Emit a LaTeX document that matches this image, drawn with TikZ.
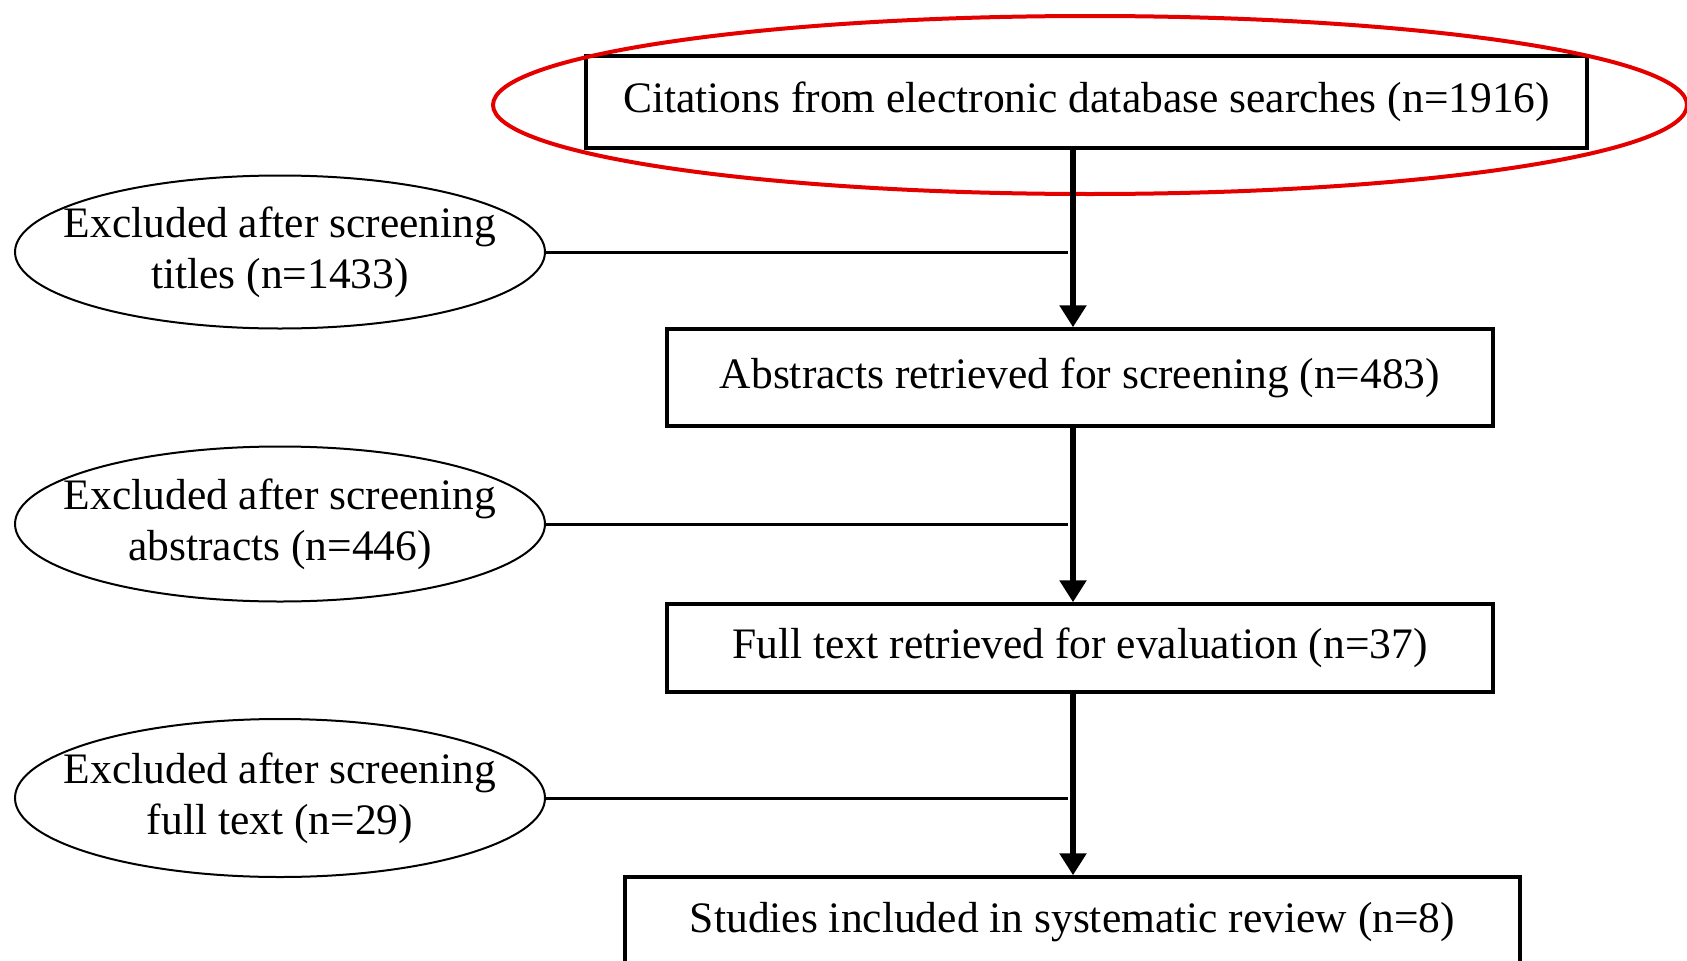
\documentclass[tikz,border=0pt]{standalone}
\usepackage{fontspec}
\setmainfont{Liberation Serif}
\usetikzlibrary{shapes.geometric,arrows.meta}
\begin{document}
\begin{tikzpicture}[x=1pt,y=-1pt,
  every node/.style={font=\fontsize{43.5}{51}\selectfont},
  flowbox/.style={draw,rectangle,line width=3.5pt,inner sep=0pt},
  excl/.style={draw,ellipse,line width=2pt,inner xsep=-40pt,inner ysep=0pt,align=center,minimum width=530pt},
  arr/.style={line width=6pt,-{Triangle[width=26pt,length=22pt]}},
  link/.style={line width=3pt}]
\useasboundingbox (0,0) rectangle (1687,961);
% boxes
\node[flowbox,minimum width=1001pt,minimum height=92pt] (top) at (1086.5,102) {Citations from electronic database searches (n=1916)};
\node[flowbox,minimum width=826pt,minimum height=97pt] (b2) at (1080,377.5) {Abstracts retrieved for screening (n=483)};
\node[flowbox,minimum width=826pt,minimum height=88pt] (b3) at (1080,648) {Full text retrieved for evaluation (n=37)};
\node[flowbox,minimum width=895pt,minimum height=90pt] (b4) at (1072.5,922) {Studies included in systematic review (n=8)};
% exclusion ellipses
\node[excl,minimum height=153pt] (e1) at (280,252) {Excluded after screening\\titles (n=1433)};
\node[excl,minimum height=155pt] (e2) at (280,524) {Excluded after screening\\abstracts (n=446)};
\node[excl,minimum height=158pt] (e3) at (280,798) {Excluded after screening\\full text (n=29)};
% highlight
\draw[red!90!black,line width=4pt] (1090,105) ellipse [x radius=597, y radius=89];
% main arrows
\coordinate (ax) at (1073,0);
\draw[arr] (top.south -| ax) -- (b2.north -| ax);
\draw[arr] (b2.south -| ax) -- (b3.north -| ax);
\draw[arr] (b3.south -| ax) -- (b4.north -| ax);
% side links
\coordinate (j1) at (1068,252);
\coordinate (j2) at (1068,524);
\coordinate (j3) at (1068,798);
\draw[link] (e1.east) -- (j1);
\draw[link] (e2.east) -- (j2);
\draw[link] (e3.east) -- (j3);
\end{tikzpicture}
\end{document}
